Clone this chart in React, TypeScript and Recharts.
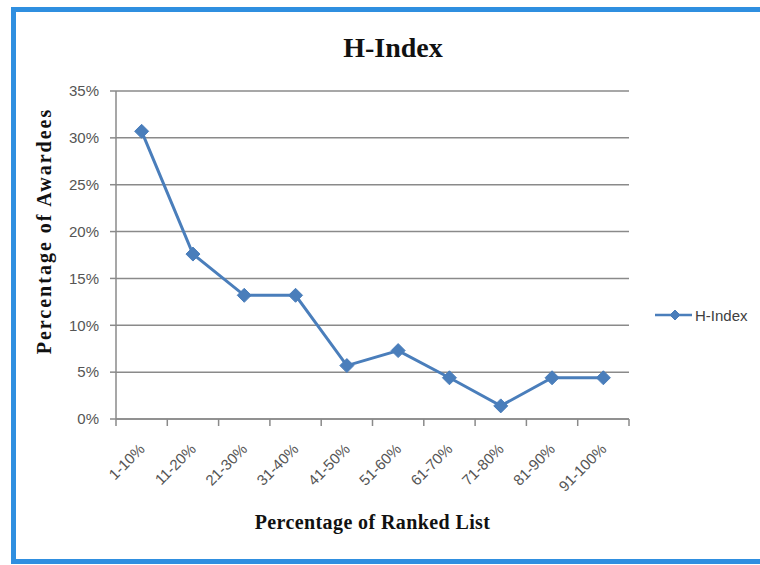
import React from "react";
import {
  LineChart,
  Line,
  XAxis,
  YAxis,
  CartesianGrid,
  Legend,
  Label,
} from "recharts";

const CATEGORIES = [
  "1-10%",
  "11-20%",
  "21-30%",
  "31-40%",
  "41-50%",
  "51-60%",
  "61-70%",
  "71-80%",
  "81-90%",
  "91-100%",
];
const H_INDEX = [30.7, 17.6, 13.2, 13.2, 5.7, 7.3, 4.4, 1.4, 4.4, 4.4];
const Y_TICKS = [0, 5, 10, 15, 20, 25, 30, 35];

const SERIES_COLOR = "#4a7ebb";
const AXIS_COLOR = "#8a8a8a";
const TICK_COLOR = "#555555";
const FRAME_COLOR = "#2f8fe0";

// plot is 513px wide with 10 categories, so half a category slot is ~25.65px
const HALF_SLOT = 513 / CATEGORIES.length / 2;

const data = CATEGORIES.map((c, i) => ({ range: c, hIndex: H_INDEX[i] }));

// Line passes its own r to the dot, so the diamond takes "size" instead
function Diamond({ cx, cy, size = 7 }: any) {
  if (cx == null || cy == null) return null;
  const s = size;
  return (
    <polygon
      points={`${cx},${cy - s} ${cx + s},${cy} ${cx},${cy + s} ${cx - s},${cy}`}
      fill={SERIES_COLOR}
      stroke={SERIES_COLOR}
      strokeWidth={1}
    />
  );
}

function CategoryTick({ x, y, payload, index }: any) {
  const isLast = index === CATEGORIES.length - 1;
  return (
    <g transform={`translate(${x},${y})`}>
      <line x1={-HALF_SLOT} y1={0} x2={-HALF_SLOT} y2={7} stroke={AXIS_COLOR} strokeWidth={1.5} />
      {isLast && (
        <line x1={HALF_SLOT} y1={0} x2={HALF_SLOT} y2={7} stroke={AXIS_COLOR} strokeWidth={1.5} />
      )}
      <text
        x={0}
        y={0}
        transform="translate(4,31) rotate(-45)"
        textAnchor="end"
        fill={TICK_COLOR}
        fontFamily="'Liberation Sans', Arial, sans-serif"
        fontSize={15}
      >
        {payload.value}
      </text>
    </g>
  );
}

function LegendContent() {
  return (
    <div style={{ display: "flex", alignItems: "center", height: 20 }}>
      <svg width={38} height={20}>
        <line x1={0} y1={10} x2={37} y2={10} stroke={SERIES_COLOR} strokeWidth={2.5} />
        <Diamond cx={20} cy={10} size={5} />
      </svg>
      <span
        style={{
          marginLeft: 2,
          fontFamily: "'Liberation Sans', Arial, sans-serif",
          fontSize: 15,
          color: "#404040",
        }}
      >
        H-Index
      </span>
    </div>
  );
}

export default function App() {
  return (
    <div
      style={{
        position: "fixed",
        left: 0,
        top: 0,
        width: 760,
        height: 565,
        overflow: "hidden",
        background: "#ffffff",
      }}
    >
      <div
        style={{
          position: "absolute",
          left: 11,
          top: 7,
          width: 780,
          height: 547,
          border: `5px solid ${FRAME_COLOR}`,
        }}
      />
      <div
        style={{
          position: "absolute",
          left: 0,
          top: 34,
          width: 786,
          textAlign: "center",
          fontFamily: "'Liberation Serif', 'Times New Roman', serif",
          fontWeight: "bold",
          fontSize: 28,
          lineHeight: "28px",
          color: "#111",
        }}
      >
        H-Index
      </div>
      <div style={{ position: "absolute", left: 0, top: 0 }}>
        <LineChart
          width={760}
          height={565}
          data={data}
          margin={{ top: 91, right: 131, bottom: 0, left: 0 }}
        >
          <CartesianGrid
            vertical={false}
            stroke={AXIS_COLOR}
            strokeWidth={1.5}
          />
          <XAxis
            dataKey="range"
            height={146}
            padding={{ left: HALF_SLOT, right: HALF_SLOT }}
            stroke={AXIS_COLOR}
            strokeWidth={1.5}
            tickLine={false}
            tickSize={0}
            tickMargin={0}
            interval={0}
            tick={<CategoryTick />}
          >
            <Label
              content={({ viewBox }: any) => (
                <text
                  x={viewBox.x + viewBox.width / 2}
                  y={viewBox.y + 110}
                  textAnchor="middle"
                  fontFamily="'Liberation Serif', 'Times New Roman', serif"
                  fontWeight="bold"
                  fontSize={20}
                  letterSpacing={0.4}
                  fill="#111"
                >
                  Percentage of Ranked List
                </text>
              )}
            />
          </XAxis>
          <YAxis
            width={116}
            domain={[0, 35]}
            ticks={Y_TICKS}
            tickFormatter={(v: number) => `${v}%`}
            stroke={AXIS_COLOR}
            strokeWidth={1.5}
            tickSize={6}
            tickMargin={11}
            tick={{
              fill: TICK_COLOR,
              fontSize: 15,
              fontFamily: "'Liberation Sans', Arial, sans-serif",
            }}
          >
            <Label
              content={({ viewBox }: any) => {
                const cx = viewBox.x + 44;
                const cy = viewBox.y + viewBox.height / 2 - 24;
                return (
                  <text
                    x={cx}
                    y={cy}
                    transform={`rotate(-90, ${cx}, ${cy})`}
                    textAnchor="middle"
                    dominantBaseline="central"
                    fontFamily="'Liberation Serif', 'Times New Roman', serif"
                    fontWeight="bold"
                    fontSize={20}
                    letterSpacing={2}
                    fill="#111"
                  >
                    Percentage of Awardees
                  </text>
                );
              }}
            />
          </YAxis>
          <Legend
            layout="horizontal"
            align="center"
            verticalAlign="middle"
            wrapperStyle={{ left: 655, top: 305, width: 105 }}
            content={<LegendContent />}
          />
          <Line
            type="linear"
            dataKey="hIndex"
            name="H-Index"
            stroke={SERIES_COLOR}
            strokeWidth={3}
            dot={<Diamond size={7} />}
            activeDot={false}
            isAnimationActive={false}
          />
        </LineChart>
      </div>
    </div>
  );
}
